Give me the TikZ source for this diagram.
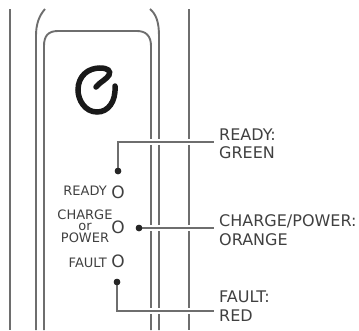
\documentclass[tikz,border=0pt]{standalone}
\usepackage{fontspec}
\setmainfont{DejaVu Sans}
\usepackage{xcolor}
\usetikzlibrary{positioning,calc}
\definecolor{casegray}{HTML}{6E6E6E}
\definecolor{textgray}{HTML}{404040}
\tikzstyle{caseline} = [draw=casegray, line width=1.9pt]
\tikzstyle{leader} = [draw=casegray, line width=1.5pt, preaction={draw=white, line width=6pt}]
\tikzstyle{leddot} = [circle, fill=black!85, inner sep=0pt, minimum size=6.5pt]
\tikzstyle{ledlamp} = [font=\fontsize{17}{17}\selectfont, text=textgray, inner sep=0pt]
\tikzstyle{ledname} = [font=\fontsize{13}{11.5}\selectfont, text=textgray, inner sep=0pt]
\tikzstyle{colourlabel} = [font=\fontsize{16}{18.5}\selectfont, text=textgray, inner sep=0pt, align=left, anchor=west]
\begin{document}
\begin{tikzpicture}[x=1pt, y=-1pt]
\useasboundingbox (0,0) rectangle (359,330);
% housing
\draw[caseline] (10,9) -- (10,330);
\draw[caseline] (189,9) -- (189,330);
\draw[caseline] (45,9) .. controls (39,16) and (36,24) .. (36,36) -- (36,330);
\draw[caseline] (150,9) .. controls (156,14) and (159,22) .. (159,36) -- (159,330);
\draw[caseline] (44,330) -- (44,46) .. controls (44,36) and (48,31) .. (58,31) -- (137,31) .. controls (146,31) and (151,36) .. (151,46) -- (151,330);
% power symbol
\draw[line width=5.5pt, line cap=round, black!90] (115,86) .. controls (116,102) and (108,112) .. (97,112) .. controls (85,112) and (78,100) .. (78,90) .. controls (78,76) and (88,68) .. (100,68) .. controls (108,68) and (111,71) .. (109,75) .. controls (107,79) and (100,82) .. (96,87);
% lamps and their names
\node[ledlamp] (readylamp) at (118,192) {O};
\node[ledlamp] (chargelamp) at (118,227) {O};
\node[ledlamp] (faultlamp) at (118,261) {O};
\node[ledname, anchor=east] (readyname) at (107,191) {READY};
\node[ledname, align=center] (chargename) at (85,226) {CHARGE\\or\\POWER};
\node[ledname, anchor=east] (faultname) at (107,263) {FAULT};
% colour labels
\node[colourlabel] (readylabel) at (219,144) {READY:\\GREEN};
\node[colourlabel] (chargelabel) at (219,230) {CHARGE/POWER:\\ORANGE};
\node[colourlabel] (faultlabel) at (219,306) {FAULT:\\RED};
% leaders
\node[leddot] (readydot) at (118,171) {};
\node[leddot] (chargedot) at (139,228) {};
\node[leddot] (faultdot) at (117,282) {};
\coordinate (readyend) at (214,142);
\coordinate (chargeend) at (214,228);
\coordinate (faultend) at (214,311);
\draw[leader] (readydot) |- (readyend);
\draw[leader] (chargedot) -- (chargeend);
\draw[leader] (faultdot) |- (faultend);
\node[leddot] at (readydot) {};
\node[leddot] at (chargedot) {};
\node[leddot] at (faultdot) {};
\end{tikzpicture}
\end{document}
